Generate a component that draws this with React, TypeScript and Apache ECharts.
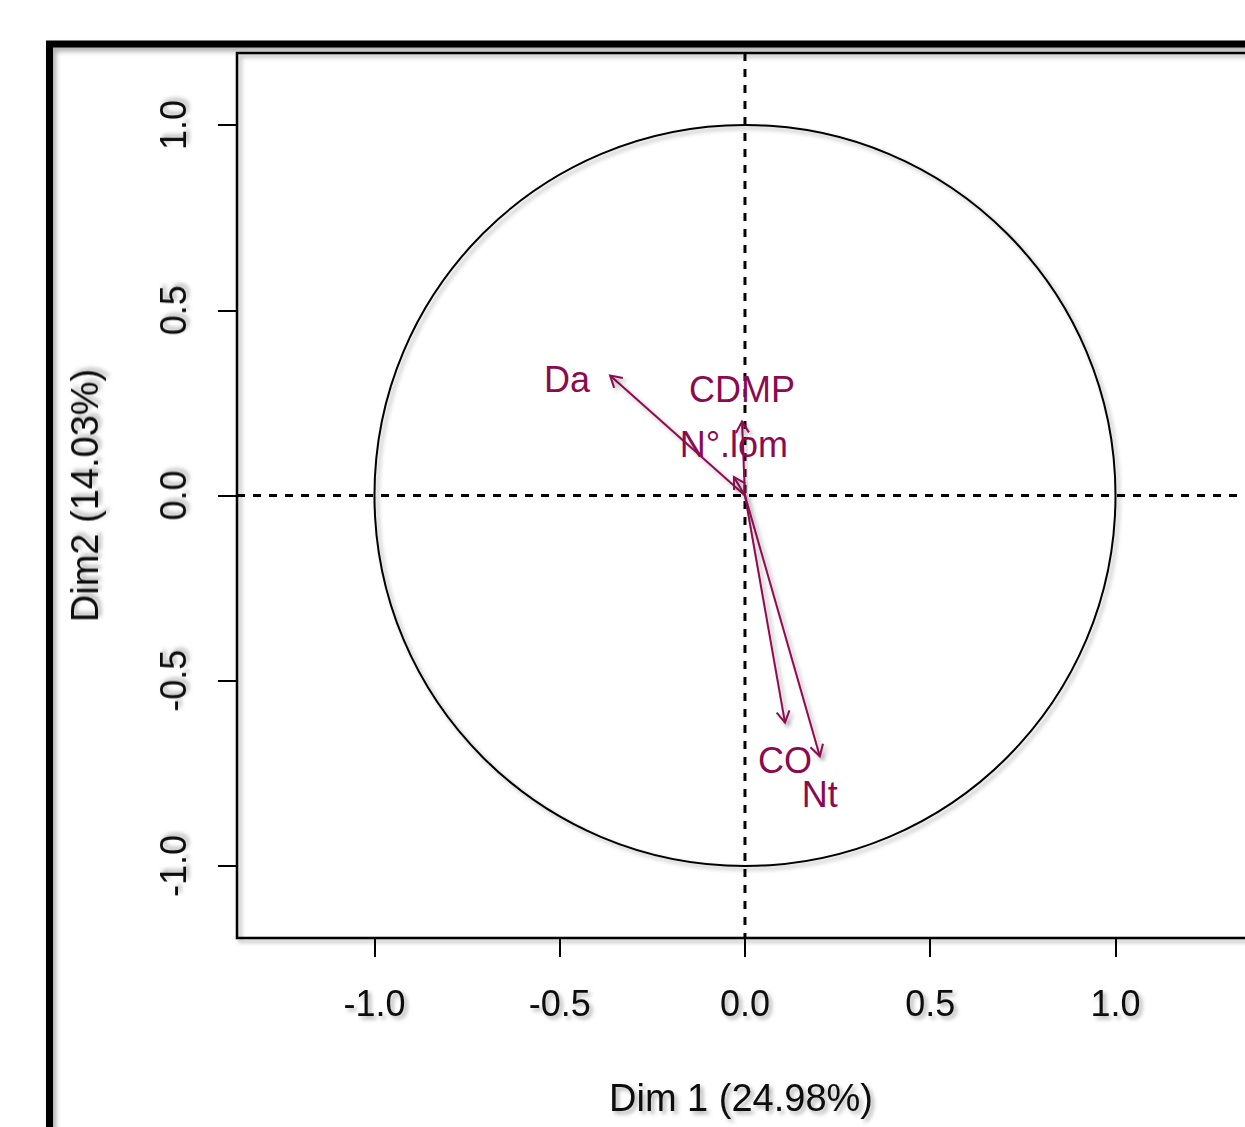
import React, { useEffect, useRef } from "react";
import * as echarts from "echarts";

// ---- data ----
const variables = ["Da", "CDMP", "N°.lom", "CO", "Nt"];
const dim1 = [-0.364, -0.008, -0.03, 0.108, 0.202];
const dim2 = [0.324, 0.2, 0.05, -0.613, -0.704];
const tickValues = [-1, -0.5, 0, 0.5, 1];
const xTitle = "Dim 1 (24.98%)";
const yTitle = "Dim2 (14.03%)";
const circleRadius = [1];
const referenceLines = [0];

const VAR_COLOR = "#8B0A50";
const FONT = "'Liberation Sans', Arial, sans-serif";
const SH = "rgba(0,0,0,0.32)";
const shadow = { shadowColor: SH, shadowBlur: 4, shadowOffsetX: 3, shadowOffsetY: 3 };
const textShadow = { textShadowColor: SH, textShadowBlur: 4, textShadowOffsetX: 3, textShadowOffsetY: 3 };

export default function App() {
  const ref = useRef<HTMLDivElement>(null);

  useEffect(() => {
    if (!ref.current) return;
    const chart = echarts.init(ref.current, null, { renderer: "svg" });

    const arrowData = variables.map((n, i) => [dim1[i], dim2[i], n]);

    const axisCommon = {
      type: "value",
      nameLocation: "middle",
      nameTextStyle: { fontSize: 38, fontFamily: FONT, color: "#111", ...textShadow },
      axisLine: { show: false, onZero: false },
      splitLine: { show: false },
      axisTick: {
        show: true,
        customValues: tickValues,
        length: 19,
        lineStyle: { color: "#000", width: 2 },
      },
    };

    const option: any = {
      animation: false,
      backgroundColor: "#ffffff",
      grid: { left: 237, top: 53, bottom: 189, right: 0, show: false },
      graphic: [
        {
          type: "rect",
          shape: { x: 49.5, y: 44, width: 1400, height: 1300 },
          style: { fill: "none", stroke: "#000", lineWidth: 7, ...shadow, shadowBlur: 5, shadowOffsetY: 4 },
          silent: true,
          z: 100,
        },
      ],
      xAxis: {
        ...axisCommon,
        min: -1.371,
        max: 1.3495,
        name: xTitle,
        nameGap: 141,
        axisLabel: {
          customValues: tickValues,
          formatter: (v: number) => v.toFixed(1),
          fontSize: 36,
          fontFamily: FONT,
          color: "#111",
          margin: 47,
          ...textShadow,
        },
      },
      yAxis: {
        ...axisCommon,
        min: -1.1945,
        max: 1.1945,
        name: yTitle,
        nameGap: 133,
        axisLabel: {
          customValues: tickValues,
          rotate: 90,
          formatter: (v: number) => v.toFixed(1),
          fontSize: 36,
          fontFamily: FONT,
          color: "#111",
          margin: 46,
          ...textShadow,
        },
      },
      series: [
        {
          // plot frame + dashed reference lines through the origin
          type: "custom",
          name: "frame",
          data: referenceLines.map((v) => [v, v]),
          z: 1,
          silent: true,
          clip: false,
          renderItem: (params: any, api: any) => {
            const cs = params.coordSys;
            const o = api.coord([api.value(0), api.value(1)]);
            const x0 = cs.x;
            const y0 = cs.y;
            const x1 = cs.x + cs.width + 20;
            const y1 = cs.y + cs.height;
            return {
              type: "group",
              children: [
                {
                  type: "polyline",
                  shape: { points: [[x1, y0], [x0, y0], [x0, y1], [x1, y1]] },
                  style: { stroke: "#000", lineWidth: 2.5, fill: "none", ...shadow },
                },
                {
                  type: "line",
                  shape: { x1: o[0], y1: y0, x2: o[0], y2: y1 },
                  style: { stroke: "#000", lineWidth: 3, lineDash: [8, 8], fill: "none" },
                },
                {
                  type: "line",
                  shape: { x1: x0, y1: o[1], x2: x1, y2: o[1] },
                  style: { stroke: "#000", lineWidth: 3, lineDash: [8, 8], fill: "none" },
                },
              ],
            };
          },
        },
        {
          type: "custom",
          name: "circle",
          data: circleRadius.map((r) => [0, 0, r]),
          z: 2,
          silent: true,
          clip: false,
          renderItem: (params: any, api: any) => {
            const c = api.coord([api.value(0), api.value(1)]);
            const r = api.value(2);
            const s = api.size([r, r]);
            return {
              type: "ellipse",
              shape: { cx: c[0], cy: c[1], rx: s[0], ry: s[1] },
              style: { fill: "none", stroke: "#000", lineWidth: 2, ...shadow },
            };
          },
        },
        {
          type: "custom",
          name: "variables",
          data: arrowData,
          z: 5,
          silent: true,
          clip: false,
          renderItem: (params: any, api: any) => {
            const x = api.value(0);
            const y = api.value(1);
            const name = variables[params.dataIndex];
            const p0 = api.coord([0, 0]);
            const p1 = api.coord([x, y]);
            const a = Math.atan2(p1[1] - p0[1], p1[0] - p0[0]);
            const L = 13;
            const th = Math.PI / 6;
            const h1 = [p1[0] - L * Math.cos(a - th), p1[1] - L * Math.sin(a - th)];
            const h2 = [p1[0] - L * Math.cos(a + th), p1[1] - L * Math.sin(a + th)];
            let tx = p1[0];
            let ty = p1[1];
            let align = "center";
            let vAlign = "middle";
            if (Math.abs(x) > Math.abs(y)) {
              if (x >= 0) {
                tx = p1[0] + 20;
                align = "left";
              } else {
                tx = p1[0] - 20;
                align = "right";
              }
              ty = p1[1] + 4;
            } else if (y >= 0) {
              ty = p1[1] - 14;
              vAlign = "bottom";
            } else {
              ty = p1[1] + 20;
              vAlign = "top";
            }
            return {
              type: "group",
              children: [
                {
                  type: "line",
                  shape: { x1: p0[0], y1: p0[1], x2: p1[0], y2: p1[1] },
                  style: { stroke: VAR_COLOR, lineWidth: 2, fill: "none", ...shadow },
                },
                {
                  type: "polyline",
                  shape: { points: [h1, p1, h2] },
                  style: { stroke: VAR_COLOR, lineWidth: 2, fill: "none", ...shadow },
                },
                {
                  type: "text",
                  x: tx,
                  y: ty,
                  style: {
                    text: name,
                    fill: VAR_COLOR,
                    fontSize: 36,
                    fontFamily: FONT,
                    align: align,
                    verticalAlign: vAlign,
                    ...shadow,
                  },
                },
              ],
            };
          },
        },
      ],
    };

    chart.setOption(option);
    return () => {
      chart.dispose();
    };
  }, []);

  return (
    <div
      ref={ref}
      style={{ position: "fixed", left: 0, top: 0, width: 1245, height: 1127, background: "#fff" }}
    />
  );
}
